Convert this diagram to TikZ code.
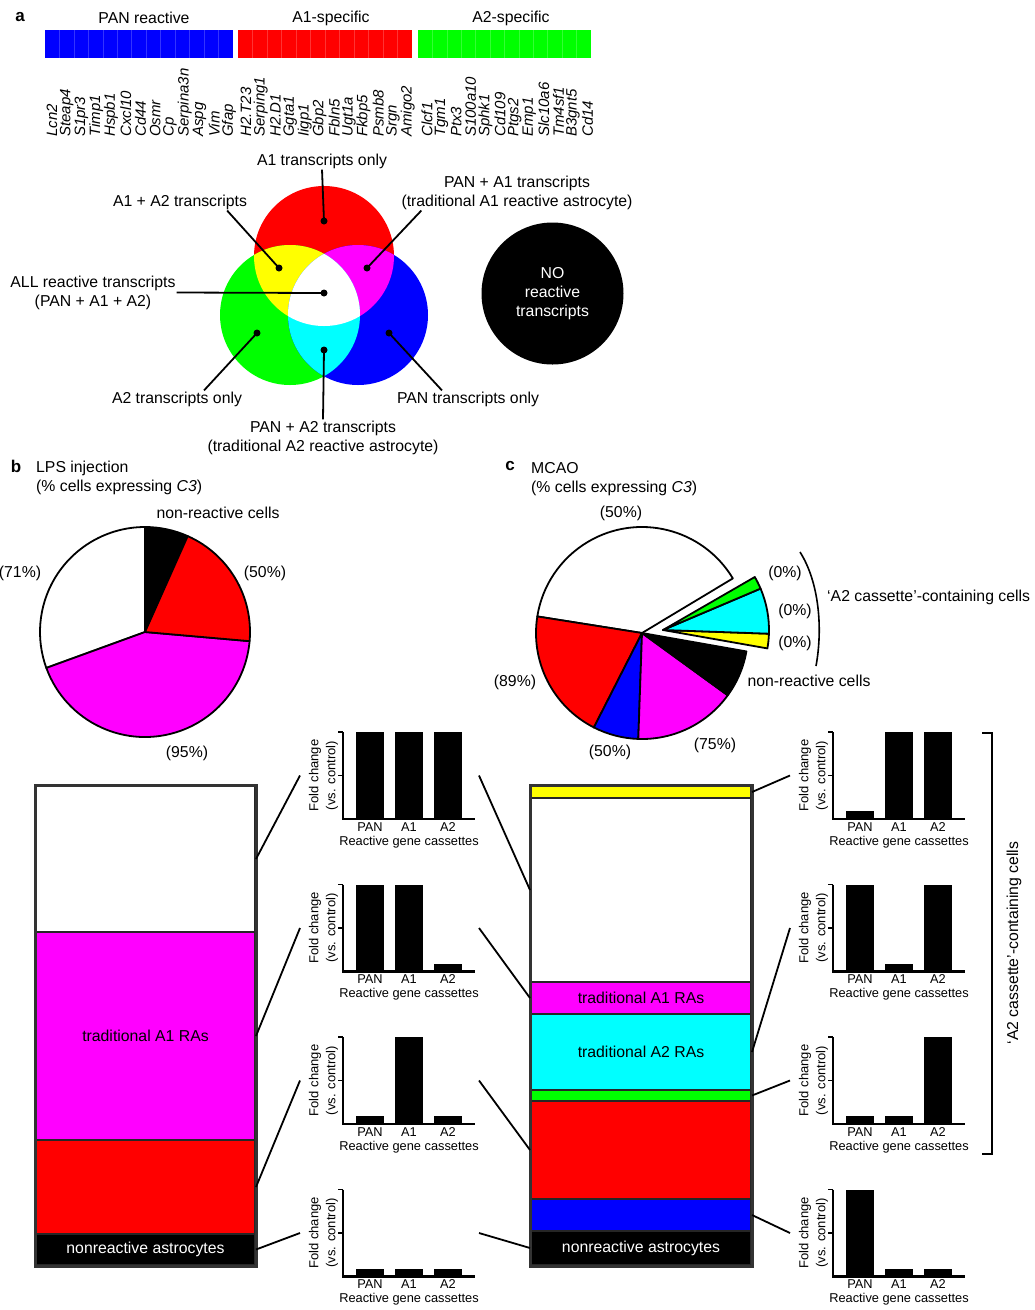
\documentclass[tikz,border=0pt]{standalone}
\usepackage{fontspec}
\setmainfont{Liberation Sans}
\definecolor{pmag}{RGB}{255,0,255}
\definecolor{pcyan}{RGB}{0,255,255}
\definecolor{pyel}{RGB}{255,255,0}

% one small bar chart: name, origin (x,y of axis corner), PAN, A1, A2 bar heights
\newcommand{\foldchart}[5]{%
  \coordinate (#1) at (#2);
  \fill ([xshift=13pt]#1) rectangle ++(28,#3);
  \fill ([xshift=52pt]#1) rectangle ++(28,#4);
  \fill ([xshift=91pt]#1) rectangle ++(28,#5);
  \draw[yaxis] ([yshift=87pt]#1) -- (#1);
  \draw[yaxis] ([yshift=87pt]#1) -- ++(-5,0);
  \draw[yaxis] ([yshift=43.5pt]#1) -- ++(-5,0);
  \draw[xaxis] ([xshift=-1pt]#1) -- ++(133,0);
  \node[cat] (#1-pan) at ([shift={(27pt,-8pt)}]#1) {PAN};
  \node[cat] (#1-a1) at ([shift={(66pt,-8pt)}]#1) {A1};
  \node[cat] (#1-a2) at ([shift={(105pt,-8pt)}]#1) {A2};
  \node[cat] (#1-x) at ([shift={(66pt,-23pt)}]#1) {Reactive gene cassettes};
  \node[foldlbl] (#1-y) at ([shift={(-19.5pt,43.5pt)}]#1) {Fold change\\(vs. control)};
  \coordinate (#1-w) at ([shift={(-43pt,43.5pt)}]#1);
  \coordinate (#1-e) at ([shift={(136pt,43.5pt)}]#1);
}

\begin{document}
\begin{tikzpicture}[x=1pt, y=1pt,
    every node/.style={font=\fontsize{15.8}{19}\selectfont, inner sep=1pt},
    gene/.style={font=\fontsize{15}{15}\selectfont\itshape, rotate=90, anchor=west, inner sep=0pt},
    head/.style={font=\fontsize{17}{19}\selectfont\bfseries},
    dot/.style={circle, fill=black, inner sep=0pt, minimum size=7pt},
    lead/.style={line width=1.8pt},
    slice/.style={draw=black, line width=1.8pt, line join=round},
    seg/.style={rectangle, draw=black!85, line width=2pt, inner sep=0pt, anchor=north west},
    cat/.style={font=\fontsize{12.8}{15}\selectfont, inner sep=0pt},
    foldlbl/.style={font=\fontsize{13}{17}\selectfont, rotate=90, align=center, inner sep=0pt},
    yaxis/.style={line width=1.6pt},
    xaxis/.style={line width=2.6pt}]
    \useasboundingbox (0,0) rectangle (1035,-1310);

    % panel a: gene cassettes
    \node[head] (pa) at (20,-17) {a};
    \node (h-pan) at (144,-18) {PAN reactive};
    \node (h-a1) at (331,-18) {A1-specific};
    \node (h-a2) at (511,-18) {A2-specific};
    \fill[blue] (45,-30) rectangle (233,-58);
    \fill[red] (238,-30) rectangle (412,-58);
    \fill[green] (418,-30) rectangle (591,-58);
    \foreach \k in {1,...,12}
      \draw[blue!80!white, line width=0.6pt] ({45+188/13*\k},-30) -- ++(0,-28);
    \foreach \k in {1,...,11}
      \draw[red!80!white, line width=0.6pt] ({238+174/12*\k},-30) -- ++(0,-28);
    \foreach \k in {1,...,11}
      \draw[green!80!white, line width=0.6pt] ({418+173/12*\k},-30) -- ++(0,-28);
    \foreach \g [count=\i from 0] in {Lcn2,Steap4,S1pr3,Timp1,Hspb1,Cxcl10,Cd44,Osmr,Cp,Serpina3n,Aspg,Vim,Gfap}
      \node[gene] (pan-\i) at ({52+14.75*\i},-137) {\g};
    \foreach \g [count=\i from 0] in {H2.T23,Serping1,H2.D1,Ggta1,Iigp1,Gbp2,Fbln5,Ugt1a,Fkbp5,Psmb8,Srgn,Amigo2}
      \node[gene] (aone-\i) at ({246+14.7*\i},-137) {\g};
    \foreach \g [count=\i from 0] in {Clcf1,Tgm1,Ptx3,S100a10,Sphk1,Cd109,Ptgs2,Emp1,Slc10a6,Tm4sf1,B3gnt5,Cd14}
      \node[gene] (atwo-\i) at ({427+14.6*\i},-137) {\g};

    % venn
    \coordinate (vr) at (324,-256);
    \coordinate (vg) at (290,-315);
    \coordinate (vb) at (358,-315);
    \fill[red] (vr) circle[radius=70];
    \fill[green] (vg) circle[radius=70];
    \fill[blue] (vb) circle[radius=70];
    \begin{scope}
      \clip (vr) circle[radius=70];
      \fill[pyel] (vg) circle[radius=70];
      \fill[pmag] (vb) circle[radius=70];
    \end{scope}
    \begin{scope}
      \clip (vg) circle[radius=70];
      \fill[pcyan] (vb) circle[radius=70];
      \clip (vb) circle[radius=70];
      \fill[white] (vr) circle[radius=70];
    \end{scope}
    \node[dot] (d-r) at (324,-221) {};
    \node[dot] (d-y) at (279,-268) {};
    \node[dot] (d-m) at (367,-268) {};
    \node[dot] (d-w) at (324,-293) {};
    \node[dot] (d-g) at (257,-333) {};
    \node[dot] (d-c) at (324,-350) {};
    \node[dot] (d-b) at (389,-333) {};

    \node (t-a1) at (322,-161) {A1 transcripts only};
    \node (t-a1a2) at (180,-202) {A1 + A2 transcripts};
    \node[align=center] (t-pana1) at (517,-192.5) {PAN + A1 transcripts\\(traditional A1 reactive astrocyte)};
    \node[align=center] (t-all) at (93,-292.5) {ALL reactive transcripts\\(PAN + A1 + A2)};
    \node (t-a2) at (177,-399) {A2 transcripts only};
    \node (t-pan) at (468,-399) {PAN transcripts only};
    \node[align=center] (t-pana2) at (323,-437.5) {PAN + A2 transcripts\\(traditional A2 reactive astrocyte)};
    \draw[lead] (t-a1.south) -- (d-r.center);
    \draw[lead] ([xshift=-21pt]t-a1a2.south east) -- (d-y.center);
    \draw[lead] ([xshift=21pt]t-pana1.south west) -- (d-m.center);
    \draw[lead] (t-all.east) -- (d-w.center);
    \draw[lead] ([xshift=27pt]t-a2.north) -- (d-g.center);
    \draw[lead] ([xshift=-26pt]t-pan.north) -- (d-b.center);
    \draw[lead] (t-pana2.north) -- (d-c.center);

    \node[circle, fill=black, minimum size=142pt, inner sep=0pt, text=white, align=center] (none) at (552.5,-293.5) {NO\\reactive\\transcripts};

    % panel b: LPS pie
    \node[head] (pb-lbl) at (16,-466) {b};
    \node[align=left, anchor=west] (pb-title) at (35,-478) {LPS injection\\(\% cells expressing \textit{C3})};
    \coordinate (pb) at (145,-632);
    \foreach \a/\b/\col in {66/90/black, 90/200/white, 200/355/pmag, -5/66/red}
      \filldraw[slice, fill=\col] (pb) -- ++(\a:105) arc[start angle=\a, end angle=\b, radius=105] -- cycle;
    \node (pb-non) at (218,-513) {non-reactive cells};
    \node (pb-50) at (265,-573) {(50\%)};
    \node (pb-71) at (20,-573) {(71\%)};
    \node (pb-95) at (187,-753) {(95\%)};

    % panel c: MCAO pie
    \node[head] (pc-lbl) at (510,-466) {c};
    \node[align=left, anchor=west] (pc-title) at (530,-479) {MCAO\\(\% cells expressing \textit{C3})};
    \coordinate (pc) at (642,-633);
    \coordinate (pcx) at (663,-630);
    \foreach \a/\b/\col in {31/171/white, 171/243/red, 243/268/blue, 268/324/pmag, 324/350/black}
      \filldraw[slice, fill=\col] (pc) -- ++(\a:106) arc[start angle=\a, end angle=\b, radius=106] -- cycle;
    \foreach \a/\b/\col in {350/358/pyel, 358/383/pcyan, 383/390/green}
      \filldraw[slice, fill=\col] (pcx) -- ++(\a:106) arc[start angle=\a, end angle=\b, radius=106] -- cycle;
    \node (pc-50a) at (621,-513) {(50\%)};
    \node (pc-0a) at (785,-573) {(0\%)};
    \node (pc-0b) at (795,-611) {(0\%)};
    \node (pc-0c) at (795,-643) {(0\%)};
    \draw[line width=1.6pt] (800,-552) .. controls (819,-582) and (823,-628) .. (816,-666);
    \node[anchor=west] (pc-a2cells) at (826,-597) {‘A2 cassette’-containing cells};
    \node (pc-non) at (809,-681) {non-reactive cells};
    \node (pc-89) at (515,-682) {(89\%)};
    \node (pc-50b) at (610,-752) {(50\%)};
    \node (pc-75) at (715,-745) {(75\%)};

    % stacked bars
    \node[seg, fill=white, minimum width=219pt, minimum height=146pt] (lw) at (35,-785) {};
    \node[seg, fill=pmag, minimum width=219pt, minimum height=208pt] (lm) at (35,-931) {traditional A1 RAs};
    \node[seg, fill=red, minimum width=219pt, minimum height=94pt] (lr) at (35,-1139) {};
    \node[seg, fill=black, text=white, minimum width=219pt, minimum height=31pt] (lk) at (35,-1233) {nonreactive astrocytes};
    \draw[draw=black!80, line width=3pt] (lw.north west) rectangle (lk.south east);

    \node[seg, fill=pyel, minimum width=220pt, minimum height=12pt] (ry) at (530,-785) {};
    \node[seg, fill=white, minimum width=220pt, minimum height=184pt] (rw) at (530,-797) {};
    \node[seg, fill=pmag, minimum width=220pt, minimum height=32pt] (rm) at (530,-981) {traditional A1 RAs};
    \node[seg, fill=pcyan, minimum width=220pt, minimum height=76pt] (rc) at (530,-1013) {traditional A2 RAs};
    \node[seg, fill=green, minimum width=220pt, minimum height=11pt] (rg) at (530,-1089) {};
    \node[seg, fill=red, minimum width=220pt, minimum height=98pt] (rr) at (530,-1100) {};
    \node[seg, fill=blue, minimum width=220pt, minimum height=32pt] (rb) at (530,-1198) {};
    \node[seg, fill=black, text=white, minimum width=220pt, minimum height=34pt] (rk) at (530,-1230) {nonreactive astrocytes};
    \draw[draw=black!80, line width=3pt] (ry.north west) rectangle (rk.south east);

    % bar charts
    \foldchart{L1}{343,-819}{87}{87}{87}
    \foldchart{L2}{343,-971.5}{87}{87}{8}
    \foldchart{L3}{343,-1124}{8}{87}{8}
    \foldchart{L4}{343,-1276.5}{8}{8}{8}
    \foldchart{R1}{833,-819}{8}{87}{87}
    \foldchart{R2}{833,-971.5}{87}{8}{87}
    \foldchart{R3}{833,-1124}{8}{8}{87}
    \foldchart{R4}{833,-1276.5}{87}{8}{8}

    % connectors
    \draw[lead] (lw.east) -- (L1-w);
    \draw[lead] (lm.east) -- (L2-w);
    \draw[lead] (lr.east) -- (L3-w);
    \draw[lead] (lk.east) -- (L4-w);
    \draw[lead] (L1-e) -- (rw.west);
    \draw[lead] (L2-e) -- (rm.west);
    \draw[lead] (L3-e) -- (rr.west);
    \draw[lead] (L4-e) -- (rk.west);
    \draw[lead] (ry.east) -- (R1-w);
    \draw[lead] (rc.east) -- (R2-w);
    \draw[lead] (rg.east) -- (R3-w);
    \draw[lead] (rb.east) -- (R4-w);

    % bracket for A2 cassette cells
    \draw[line width=2pt] (982,-733) -- (992,-733) -- (992,-1154) -- (982,-1154);
    \node[rotate=90] (a2side) at (1014,-943) {‘A2 cassette’-containing cells};
  \end{tikzpicture}
\end{document}
